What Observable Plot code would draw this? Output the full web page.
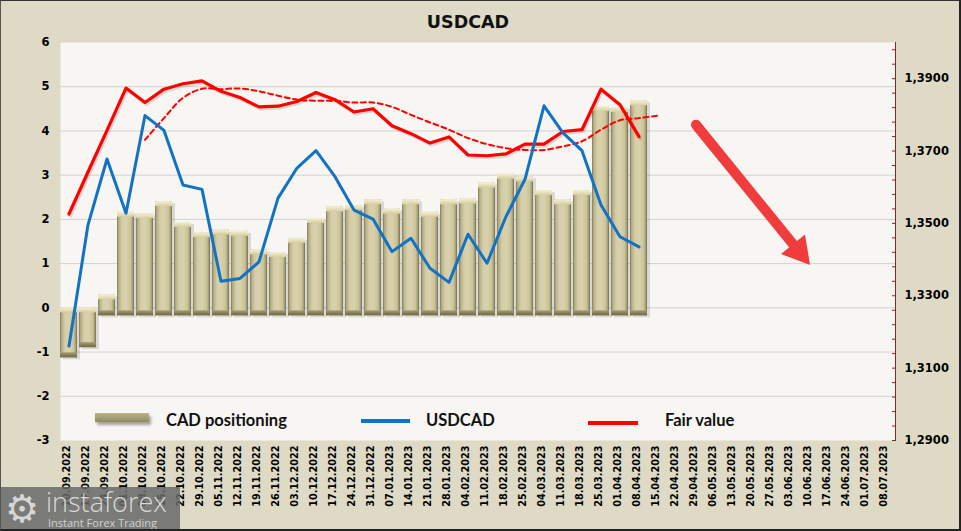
<!DOCTYPE html>
<html>
<head>
<meta charset="utf-8">
<script src="https://cdn.jsdelivr.net/npm/d3@7"></script>
<script src="https://cdn.jsdelivr.net/npm/@observablehq/plot@0.6"></script>
<style>
html, body { margin: 0; padding: 0; background: #dedac5; }
#wrap { position: relative; width: 961px; height: 531px; background: #dedac5; overflow: hidden; }
#chart { position: absolute; left: 0; top: 0; }
#title { position: absolute; left: 0; width: 936px; top: 11px; text-align: center; font: bold 17.5px "DejaVu Sans", sans-serif; color: #111; line-height: 22px; }
.leg { position: absolute; font: bold 16.5px "Lato", sans-serif; color: #111; line-height: 1; white-space: nowrap; }
.sw { position: absolute; }
#border { position: absolute; left: 0; top: 0; right: 0; bottom: 0; border-top: 1px solid #333; border-left: 1px solid #555; border-right: 2px solid #222; border-bottom: 2px solid #222; pointer-events: none; }
#wm { position: absolute; left: 0; top: 487px; width: 180px; height: 44px; background: rgba(104,104,104,0.85); }
#wm .gear { position: absolute; left: 5px; top: 1px; font: 38px "DejaVu Sans"; line-height: 42px; color: #d6d6d6; }
#wm .t1 { position: absolute; left: 46px; top: 1px; font: 300 27px "Open Sans", sans-serif; line-height: 1; color: #d9d9d9; }
#wm .t2 { position: absolute; left: 48px; top: 30px; font: 11px "Open Sans", sans-serif; line-height: 1; color: #d2d2d2; }
</style>
</head>
<body>
<div id="wrap">
  <div id="chart"></div>
  <div id="title">USDCAD</div>
  <div class="sw" style="left:95px;top:413px;width:54px;height:9px;background:linear-gradient(to bottom,#bdb589,#8f8962);box-shadow:2px 3px 3px rgba(0,0,0,0.35);"></div>
  <div class="leg" style="left:166px;top:412px;">CAD positioning</div>
  <div class="sw" style="left:361px;top:419px;width:49px;height:3.5px;background:#1272c4;"></div>
  <div class="leg" style="left:426px;top:412px;">USDCAD</div>
  <div class="sw" style="left:588px;top:421px;width:50px;height:4px;background:#ff0000;"></div>
  <div class="leg" style="left:665px;top:412px;">Fair value</div>
  <div id="wm"><span class="gear">⚙</span><div class="t1">instaforex</div><div class="t2">Instant Forex Trading</div></div>
  <div id="border"></div>
</div>
<script>
// ---------- data ----------
const dates = [
  "10.09.2022","17.09.2022","24.09.2022","01.10.2022","08.10.2022","15.10.2022","22.10.2022","29.10.2022",
  "05.11.2022","12.11.2022","19.11.2022","26.11.2022","03.12.2022","10.12.2022","17.12.2022","24.12.2022",
  "31.12.2022","07.01.2023","14.01.2023","21.01.2023","28.01.2023","04.02.2023","11.02.2023","18.02.2023",
  "25.02.2023","04.03.2023","11.03.2023","18.03.2023","25.03.2023","01.04.2023","08.04.2023","15.04.2023",
  "22.04.2023","29.04.2023","06.05.2023","13.05.2023","20.05.2023","27.05.2023","03.06.2023","10.06.2023",
  "17.06.2023","24.06.2023","01.07.2023","08.07.2023"
];
const cadPositioning = [
  -0.95, -0.72, 0.29, 2.16, 2.13, 2.40, 1.93, 1.70, 1.76, 1.73, 1.31, 1.25, 1.57, 2.02, 2.28, 2.31,
  2.44, 2.23, 2.44, 2.16, 2.44, 2.46, 2.82, 3.02, 2.96, 2.65, 2.44, 2.65, 4.55, 4.53, 4.68
];
const usdcad = [
  1.3161, 1.3496, 1.3678, 1.3528, 1.3798, 1.3757, 1.3606, 1.3594, 1.3340, 1.3348, 1.3394, 1.3570,
  1.3653, 1.3701, 1.3629, 1.3537, 1.3512, 1.3422, 1.3459, 1.3376, 1.3337, 1.3470, 1.3390, 1.3519,
  1.3622, 1.3825, 1.3750, 1.3701, 1.3551, 1.3463, 1.3435
];
const fairValue = [
  1.3526, 1.3642, 1.3757, 1.3874, 1.3834, 1.3871, 1.3886, 1.3894, 1.3865, 1.3848, 1.3822, 1.3824,
  1.3837, 1.3862, 1.3842, 1.3808, 1.3817, 1.3770, 1.3748, 1.3722, 1.3739, 1.3689, 1.3687, 1.3692,
  1.3719, 1.3719, 1.3754, 1.3759, 1.3871, 1.3828, 1.3740
];
const fairValueAvgStart = 4; // first date index of the dashed average
const fairValueAvg = [
  1.3731, 1.3791, 1.3847, 1.3872, 1.3871, 1.3873, 1.3865, 1.3853, 1.3842, 1.3839, 1.3839, 1.3834,
  1.3834, 1.3822, 1.3800, 1.3779, 1.3759, 1.3736, 1.3719, 1.3708, 1.3703, 1.3703, 1.3713, 1.3727,
  1.3759, 1.3785, 1.3791, 1.3798
];
const leftDomain = [-3, 6];
const leftTicks = [-3, -2, -1, 0, 1, 2, 3, 4, 5, 6];
const rightDomain = [1.29, 1.40];
const rightTicks = [1.29, 1.31, 1.33, 1.35, 1.37, 1.39];
const rightMinorStep = 0.004;
const arrowStart = {date: "29.04.2023", value: 4.14};
const arrowEnd = {date: "10.06.2023", value: 0.97};

// ---------- helpers ----------
const k = (leftDomain[1] - leftDomain[0]) / (rightDomain[1] - rightDomain[0]);
const toLeft = (v) => leftDomain[0] + (v - rightDomain[0]) * k;
const fromLeft = (y) => rightDomain[0] + (y - leftDomain[0]) / k;
const fmtRight = (v) => v.toFixed(4).replace(".", ",");
const fmtLeft = (d) => (d < 0 ? "-" + Math.abs(d) : String(d));

const posData = cadPositioning.map((v, i) => ({date: dates[i], v}));
const usdData = usdcad.map((v, i) => ({date: dates[i], v}));
const fairData = fairValue.map((v, i) => ({date: dates[i], v}));
const avgData = fairValueAvg.map((v, i) => ({date: dates[i + fairValueAvgStart], v}));
const minorTicks = d3.range(rightDomain[0], rightDomain[1] - 1e-9, rightMinorStep).map(toLeft);
const arrowData = [{d1: arrowStart.date, v1: arrowStart.value, d2: arrowEnd.date, v2: arrowEnd.value}];

const red = "#ff0000", blue = "#1272c4", arrowRed = "#f03c3c";

const chart = Plot.plot({
  width: 961,
  height: 531,
  marginLeft: 60,
  marginRight: 66,
  marginTop: 42,
  marginBottom: 91,
  style: {background: "transparent", fontFamily: "DejaVu Sans, sans-serif", fontWeight: "bold", color: "#000"},
  x: {domain: dates, range: [54.7, 899.5], paddingInner: 0.13, paddingOuter: 0.065},
  y: {domain: leftDomain},
  marks: [
    Plot.frame({fill: "#f7f6f2", stroke: "none"}),
    Plot.gridY(leftTicks.slice(1, -1), {stroke: "#d3d2cd", strokeOpacity: 1}),
    // bar shadow
    Plot.barY(posData, {x: "date", y: "v", fill: "#000", fillOpacity: 0.12, dx: 3, dy: 2, insetBottom: -8, clip: true}),
    // bar body
    Plot.barY(posData, {x: "date", y: "v", fill: "url(#barBody)", insetBottom: -8, clip: true}),
    // dark base strip (at the lower end of each bar)
    Plot.barY(posData, {x: "date", y1: (d) => Math.min(0, d.v), y2: (d) => Math.min(0, d.v), insetTop: 3, insetBottom: -8, fill: "url(#barBase)", clip: true}),
    // light top bevel
    Plot.barY(posData, {x: "date", y1: (d) => Math.max(0, d.v), y2: (d) => Math.max(0, d.v), insetBottom: -5, fill: "url(#barCap)", clip: true}),
    // lines
    Plot.line(avgData, {x: "date", y: (d) => toLeft(d.v), stroke: red, strokeWidth: 2, strokeDasharray: "5,3.5", curve: "catmull-rom"}),
    Plot.line(fairData, {x: "date", y: (d) => toLeft(d.v), stroke: "#000", strokeOpacity: 0.12, strokeWidth: 3.2, dx: 1.5, dy: 2}),
    Plot.line(fairData, {x: "date", y: (d) => toLeft(d.v), stroke: red, strokeWidth: 3.2}),
    Plot.line(usdData, {x: "date", y: (d) => toLeft(d.v), stroke: blue, strokeWidth: 3}),
    // annotation arrow
    Plot.arrow(arrowData, {x1: "d1", y1: "v1", x2: "d2", y2: "v2", stroke: "#000", strokeOpacity: 0.15, strokeWidth: 10, headLength: 0, insetEnd: 22, dx: 2, dy: 3}),
    Plot.arrow(arrowData, {x1: "d1", y1: "v1", x2: "d2", y2: "v2", stroke: arrowRed, strokeWidth: 10, headLength: 0, insetEnd: 22}),
    Plot.dot(arrowData, {x: "d2", y: "v2", symbol: "triangle", r: 11.5, fill: arrowRed, stroke: "none", rotate: 140.6, dx: -11.3, dy: -13.8}),
    // axes
    Plot.axisY(leftTicks, {anchor: "left", tickSize: 0, tickPadding: 11, fontSize: 11.5, tickFormat: fmtLeft, label: null}),
    Plot.frame({anchor: "right", stroke: "#7b2b2b"}),
    Plot.axisY(minorTicks, {anchor: "right", tickSize: -4, tickFormat: () => "", stroke: "#7b2b2b", label: null}),
    Plot.axisY(rightTicks.map(toLeft), {anchor: "right", tickSize: 0, tickPadding: 9, tickFormat: (d) => fmtRight(fromLeft(d)), fontSize: 11.5, label: null}),
    Plot.axisX({tickRotate: -90, tickSize: 0, tickPadding: 5, fontSize: 9.7, label: null, dx: -2})
  ]
});

// gradients for the bevelled bars
const svg = d3.select(chart);
const defs = svg.insert("defs", ":first-child");
function grad(id, vertical, stops) {
  const g = defs.append("linearGradient").attr("id", id)
    .attr("x1", 0).attr("y1", 0).attr("x2", vertical ? 0 : 1).attr("y2", vertical ? 1 : 0);
  stops.forEach(([o, c]) => g.append("stop").attr("offset", o).attr("stop-color", c));
}
grad("barBody", false, [[0, "#807a57"], [0.1, "#b6ae83"], [0.3, "#d5cea8"], [0.55, "#d8d1ac"], [0.8, "#cbc398"], [0.92, "#a59e74"], [1, "#6f6a4c"]]);
grad("barCap", true, [[0, "#f5f0d6"], [1, "#d6ce9f"]]);
grad("barBase", true, [[0, "#a39c72"], [1, "#6c6748"]]);

document.getElementById("chart").appendChild(chart);
</script>
</body>
</html>
